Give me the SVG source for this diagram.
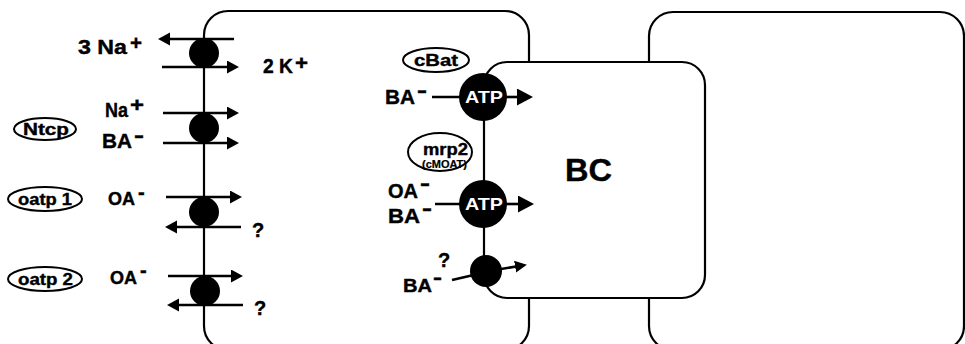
<svg xmlns="http://www.w3.org/2000/svg" width="965" height="344" viewBox="0 0 965 344">
<style>
text{font-family:"Liberation Sans",Arial,sans-serif;font-weight:bold;fill:#000;stroke:#000;stroke-width:0.4}
.cell{fill:#fff;stroke:#000;stroke-width:2.2}
.lbl{fill:#fff;stroke:#000;stroke-width:2}
.tr{fill:#000}
.ar{stroke:#000;stroke-width:2.6;fill:none}
.ion{font-size:20px}
.oval{font-size:17px}
.atp{font-size:17px;fill:#fff;stroke:none}
</style>
<defs>
<marker id="ah" markerUnits="userSpaceOnUse" markerWidth="14" markerHeight="14" refX="4" refY="6.5" orient="auto">
<path d="M0,0 L12,6.5 L0,13 z" fill="#000"/>
</marker>
<marker id="ahb" markerUnits="userSpaceOnUse" markerWidth="18" markerHeight="18" refX="5" refY="8.5" orient="auto">
<path d="M0,0 L16,8.5 L0,17 z" fill="#000"/>
</marker>
<marker id="ahs" markerUnits="userSpaceOnUse" markerWidth="14" markerHeight="14" refX="4" refY="6" orient="auto">
<path d="M0,0 L12,6 L0,12 z" fill="#000"/>
</marker>
</defs>

<g id="cells">
<rect id="hepatocyte-left" class="cell" x="204" y="11" width="325" height="339" rx="24"/>
<rect id="hepatocyte-right" class="cell" x="649" y="12" width="315" height="338" rx="24"/>
<rect id="bile-canaliculus" class="cell" x="484" y="62" width="221" height="236" rx="23"/>
<text x="565" y="181" style="font-size:32px" textLength="47" lengthAdjust="spacingAndGlyphs">BC</text>
</g>

<g id="connectors">
<line class="ar" x1="234" y1="39" x2="166" y2="39" marker-end="url(#ah)"/>
<line class="ar" x1="162" y1="67" x2="231" y2="67" marker-end="url(#ah)"/>
<line class="ar" x1="163" y1="113" x2="231" y2="113" marker-end="url(#ah)"/>
<line class="ar" x1="163" y1="143" x2="231" y2="143" marker-end="url(#ah)"/>
<line class="ar" x1="166" y1="197" x2="234" y2="197" marker-end="url(#ah)"/>
<line class="ar" x1="241" y1="227" x2="173" y2="227" marker-end="url(#ah)"/>
<line class="ar" x1="168" y1="276" x2="235" y2="276" marker-end="url(#ah)"/>
<line class="ar" x1="243" y1="305" x2="175" y2="305" marker-end="url(#ah)"/>
<line class="ar" x1="432" y1="97" x2="470" y2="97"/>
<line class="ar" x1="500" y1="97" x2="522" y2="97" marker-end="url(#ahb)"/>
<line class="ar" x1="435" y1="204" x2="470" y2="204"/>
<line class="ar" x1="500" y1="204" x2="523" y2="204" marker-end="url(#ahb)"/>
<line class="ar" x1="452" y1="280" x2="478" y2="274"/>
<line class="ar" x1="495" y1="270" x2="519" y2="266" marker-end="url(#ahs)"/>
</g>

<g id="na-k-pump">
<circle class="tr" cx="204" cy="53" r="15"/>
<text class="ion" x="78" y="54"><tspan textLength="49" lengthAdjust="spacingAndGlyphs">3 Na</tspan><tspan x="130" y="50" textLength="12" lengthAdjust="spacingAndGlyphs">+</tspan></text>
<text class="ion" x="263" y="73"><tspan textLength="30" lengthAdjust="spacingAndGlyphs">2 K</tspan><tspan x="295" y="70" textLength="13" lengthAdjust="spacingAndGlyphs">+</tspan></text>
</g>

<g id="ntcp">
<circle class="tr" cx="204" cy="128" r="15"/>
<ellipse class="lbl" cx="45" cy="129" rx="31" ry="11"/>
<text class="oval" x="23" y="135" textLength="46" lengthAdjust="spacingAndGlyphs">Ntcp</text>
<text class="ion" x="105" y="117"><tspan textLength="23" lengthAdjust="spacingAndGlyphs">Na</tspan><tspan x="130" y="112" textLength="14" lengthAdjust="spacingAndGlyphs">+</tspan></text>
<text class="ion" x="102" y="148"><tspan textLength="30" lengthAdjust="spacingAndGlyphs">BA</tspan><tspan x="134" y="142" textLength="10" lengthAdjust="spacingAndGlyphs">-</tspan></text>
</g>

<g id="oatp1">
<circle class="tr" cx="204" cy="212" r="15"/>
<ellipse class="lbl" cx="45" cy="199" rx="37" ry="12"/>
<text class="oval" x="18" y="205" textLength="54" lengthAdjust="spacingAndGlyphs">oatp 1</text>
<text class="ion" x="108" y="205" style="font-size:18px">OA<tspan x="138" y="199" style="font-size:20px">-</tspan></text>
<text class="ion" x="252" y="237">?</text>
</g>

<g id="oatp2">
<circle class="tr" cx="205" cy="291" r="15"/>
<ellipse class="lbl" cx="45" cy="279" rx="37" ry="12"/>
<text class="oval" x="18" y="285" textLength="55" lengthAdjust="spacingAndGlyphs">oatp 2</text>
<text class="ion" x="110" y="284" style="font-size:18px">OA<tspan x="140" y="277" style="font-size:20px">-</tspan></text>
<text class="ion" x="254" y="315">?</text>
</g>

<g id="cbat">
<ellipse class="lbl" cx="436" cy="60" rx="33" ry="12"/>
<text class="oval" x="414" y="66" textLength="44" lengthAdjust="spacingAndGlyphs">cBat</text>
<text class="ion" x="385" y="104"><tspan textLength="30" lengthAdjust="spacingAndGlyphs">BA</tspan><tspan x="417" y="97" textLength="10" lengthAdjust="spacingAndGlyphs">-</tspan></text>
<circle class="tr" cx="483" cy="97" r="24"/>
<text class="atp" x="465" y="103" textLength="38" lengthAdjust="spacingAndGlyphs">ATP</text>
</g>

<g id="mrp2">
<ellipse class="lbl" cx="440" cy="152" rx="32" ry="19"/>
<text class="oval" x="423" y="155" textLength="45" lengthAdjust="spacingAndGlyphs">mrp2</text>
<text x="422" y="168" style="font-size:10px;stroke-width:0.2" textLength="45" lengthAdjust="spacingAndGlyphs">(cMOAT)</text>
<text class="ion" x="388" y="198"><tspan textLength="30" lengthAdjust="spacingAndGlyphs">OA</tspan><tspan x="420" y="190" textLength="10" lengthAdjust="spacingAndGlyphs">-</tspan></text>
<text class="ion" x="388" y="223"><tspan textLength="32" lengthAdjust="spacingAndGlyphs">BA</tspan><tspan x="422" y="215" textLength="10" lengthAdjust="spacingAndGlyphs">-</tspan></text>
<circle class="tr" cx="483" cy="204" r="24"/>
<text class="atp" x="465" y="210" textLength="38" lengthAdjust="spacingAndGlyphs">ATP</text>
</g>

<g id="unknown-ba-transporter">
<circle class="tr" cx="486" cy="271" r="16"/>
<text class="ion" x="438" y="267">?</text>
<text class="ion" x="403" y="292" style="font-size:19px"><tspan textLength="29" lengthAdjust="spacingAndGlyphs">BA</tspan><tspan x="433" y="284" textLength="9" lengthAdjust="spacingAndGlyphs">-</tspan></text>
</g>
</svg>
